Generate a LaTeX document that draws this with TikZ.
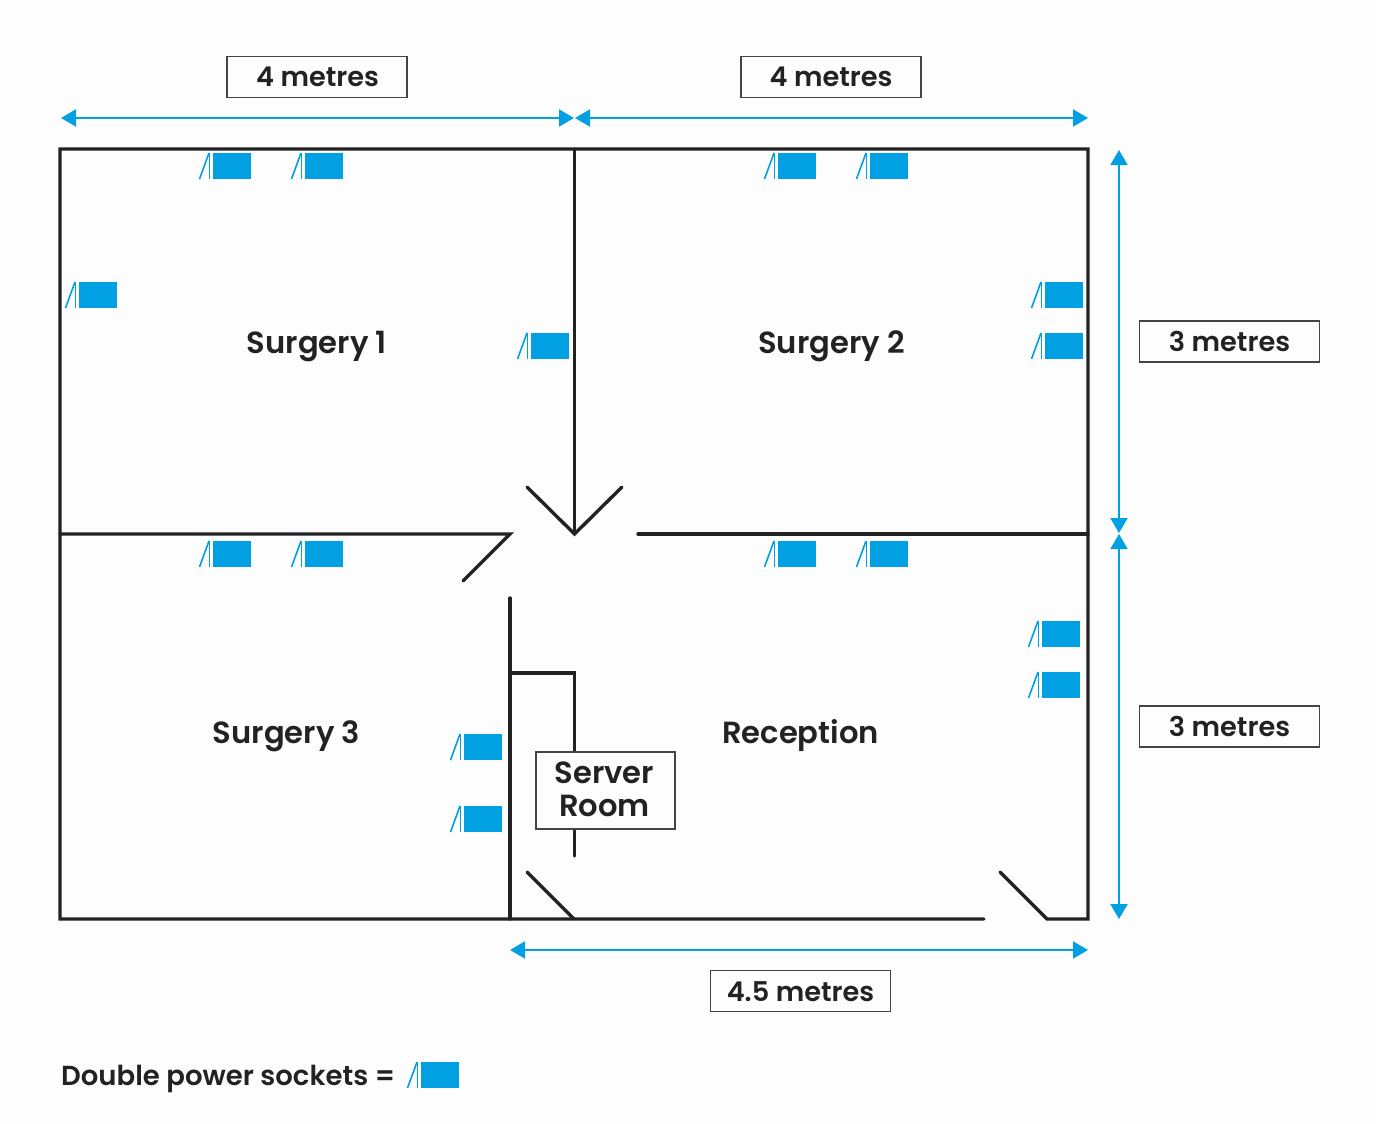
\documentclass[tikz,border=0pt]{standalone}
\usepackage{fontspec}
\setmainfont{Poppins}[BoldFont={Poppins SemiBold}]
\usetikzlibrary{arrows.meta}
\definecolor{sockblue}{HTML}{00A0E3}
\definecolor{wallc}{HTML}{222222}
\definecolor{boxc}{HTML}{444444}
\definecolor{bgc}{HTML}{FDFDFD}
\tikzset{
  wall/.style={draw=wallc,line width=3.4pt,line cap=round,line join=miter},
  dimline/.style={draw=sockblue,line width=2pt,{Triangle[length=15pt,width=17pt]}-{Triangle[length=15pt,width=17pt]}},
  dimbox/.style={draw=boxc,line width=1.6pt,fill=bgc,minimum width=180pt,minimum height=41pt,inner sep=0pt},
  dimtext/.style={anchor=base,inner sep=0pt,font=\fontsize{27.2}{32}\selectfont\bfseries,text=wallc},
  roomlabel/.style={anchor=base,inner sep=0pt,font=\fontsize{30.6}{36}\selectfont\bfseries,text=wallc},
  sock/.pic={
    \fill[sockblue] (0,0) rectangle (38,26);
    \draw[sockblue,line width=1.4pt] (-3.5,0) -- (-3.5,26);
    \draw[sockblue,line width=1.6pt] (-4,0) -- (-13.5,26);
  }
}
\begin{document}
\begin{tikzpicture}[x=1pt,y=-1pt]
\path[use as bounding box,fill=bgc] (0,0) rectangle (1376,1124);
% walls
\coordinate (tl) at (60,149); \coordinate (tr) at (1088,149);
\coordinate (br) at (1088,919); \coordinate (bl) at (60,919);
\coordinate (bg1) at (984,919); \coordinate (bg2) at (1047,919);
\coordinate (dr) at (1000,872);
\draw[wall] (bg1) -- (bl) -- (tl) -- (tr) -- (br) -- (bg2) -- (dr);
\coordinate (ml) at (60,534); \coordinate (m1) at (510,534); \coordinate (d3) at (463,581);
\draw[wall] (ml) -- (m1) -- (d3);
\coordinate (mr) at (1088,534); \coordinate (m2) at (638,534);
\draw[wall] (m2) -- (mr);
\coordinate (vt) at (574.5,149); \coordinate (vb) at (574.5,534);
\coordinate (va) at (527,487); \coordinate (vc) at (622,487);
\draw[wall] (vt) -- (vb);
\draw[wall] (va) -- (vb) -- (vc);
\coordinate (st) at (510,598); \coordinate (sb) at (510,919);
\draw[wall] (st) -- (sb);
\coordinate (s1) at (510,673); \coordinate (s2) at (574.5,673); \coordinate (s3) at (574.5,856);
\draw[wall] (s1) -- (s2) -- (s3);
\coordinate (sd1) at (527,872); \coordinate (sd2) at (574,919);
\draw[wall] (sd1) -- (sd2);
% sockets
\foreach \x/\y in {213/153,305/153,79/282,531/333,778/153,870/153,1045/282,1045/333,
  213/541,305/541,464/734,464/806,778/541,870/541,1042/621,1042/672,421/1062}
  \pic at (\x,\y) {sock};
% dimension arrows
\coordinate (a1) at (61,118); \coordinate (a2) at (574,118); \coordinate (a3) at (575,118); \coordinate (a4) at (1088,118);
\coordinate (b1) at (1119,150); \coordinate (b2) at (1119,533); \coordinate (b3) at (1119,534); \coordinate (b4) at (1119,919);
\coordinate (c1) at (510,950); \coordinate (c2) at (1088,950);
\draw[dimline] (a1) -- (a2);
\draw[dimline] (a3) -- (a4);
\draw[dimline] (b1) -- (b2);
\draw[dimline] (b3) -- (b4);
\draw[dimline] (c1) -- (c2);
% labels
\node[dimbox] (l1) at (317,77) {};
\node[dimbox] (l2) at (831,77) {};
\node[dimbox] (l3) at (1229.5,341.5) {};
\node[dimbox] (l4) at (1229.5,726.5) {};
\node[dimbox] (l5) at (800.5,991) {};
\node[dimtext] (t1) at (317.5,87) {4 metres};
\node[dimtext] (t2) at (831,87) {4 metres};
\node[dimtext] (t3) at (1229.5,351) {3 metres};
\node[dimtext] (t4) at (1229.5,736) {3 metres};
\node[dimtext] (t5) at (800.5,1001) {4.5 metres};
\node[roomlabel] (r1) at (317,353) {Surgery 1};
\node[roomlabel] (r2) at (831.5,353) {Surgery 2};
\node[roomlabel] (r3) at (286.5,743) {Surgery 3};
\node[roomlabel] (r4) at (800.5,743) {Reception};
\node[dimbox,minimum width=139pt,minimum height=77pt] (srv) at (605.5,790.5) {};
\node[roomlabel] (srv1) at (604.5,783) {Server};
\node[roomlabel] (srv2) at (604.5,816) {Room};
\node[anchor=base west,inner sep=0pt,font=\fontsize{27.5}{34}\selectfont\bfseries,text=wallc] (leg) at (61,1085) {Double power sockets =};
\end{tikzpicture}
\end{document}
